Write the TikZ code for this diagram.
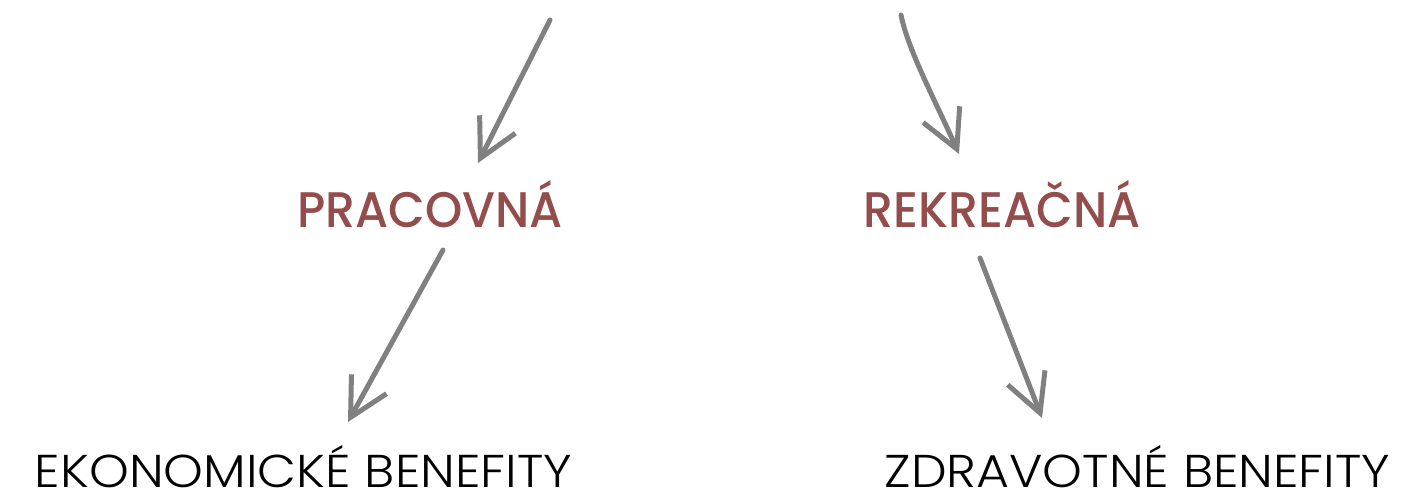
\documentclass[tikz,border=0pt]{standalone}
\usepackage{fontspec}
\setmainfont{Poppins}
\newfontfamily\labelfont[FakeStretch=0.95]{Poppins Medium}
\newfontfamily\benefitfont[FakeStretch=1.1]{Poppins Light}
\definecolor{linegray}{RGB}{128, 128, 128}
\definecolor{typered}{RGB}{148, 77, 77}
\usetikzlibrary{arrows.meta, calc}

\begin{document}
\begin{tikzpicture}[x=0.5pt, y=-0.5pt,
    arr/.style={-{Straight Barb[length=19pt, width=20pt]}, line width=2.5pt, linegray, line cap=round, line join=round},
    kind/.style={inner sep=0pt, text depth=0pt, anchor=south, text=typered, font=\labelfont\fontsize{25}{30}\selectfont},
    benefit/.style={inner sep=0pt, text depth=0pt, anchor=south, text=black, font=\benefitfont\fontsize{23}{28}\selectfont}]
  \useasboundingbox (0,0) rectangle (1410,498);

  % Free ends of the incoming arrows
  \coordinate (from-left) at (550, 20);
  \coordinate (from-right) at (901, 15);

  % Kinds of activity
  \node[kind] (pracovna) at (430, 228) {PRACOVNÁ};
  \node[kind] (rekreacna) at (1002, 228) {REKREAČNÁ};

  % Benefits
  \node[benefit] (ekonomicke) at (303.5, 488) {EKONOMICKÉ BENEFITY};
  \node[benefit] (zdravotne) at (1137.5, 488) {ZDRAVOTNÉ BENEFITY};

  % Arrows
  \draw[arr] (from-left) -- ($(pracovna.south)+(48,-65)$);
  \draw[arr] (from-right) .. controls (908, 50) and (935, 100) .. ($(rekreacna.south)+(-43,-74)$);
  \draw[arr] ($(pracovna.south)+(13,22)$) -- ($(ekonomicke.south)+(44.5,-66)$);
  \draw[arr] ($(rekreacna.south)+(-22,30)$) -- ($(zdravotne.south)+(-95.5,-70)$);
\end{tikzpicture}
\end{document}
